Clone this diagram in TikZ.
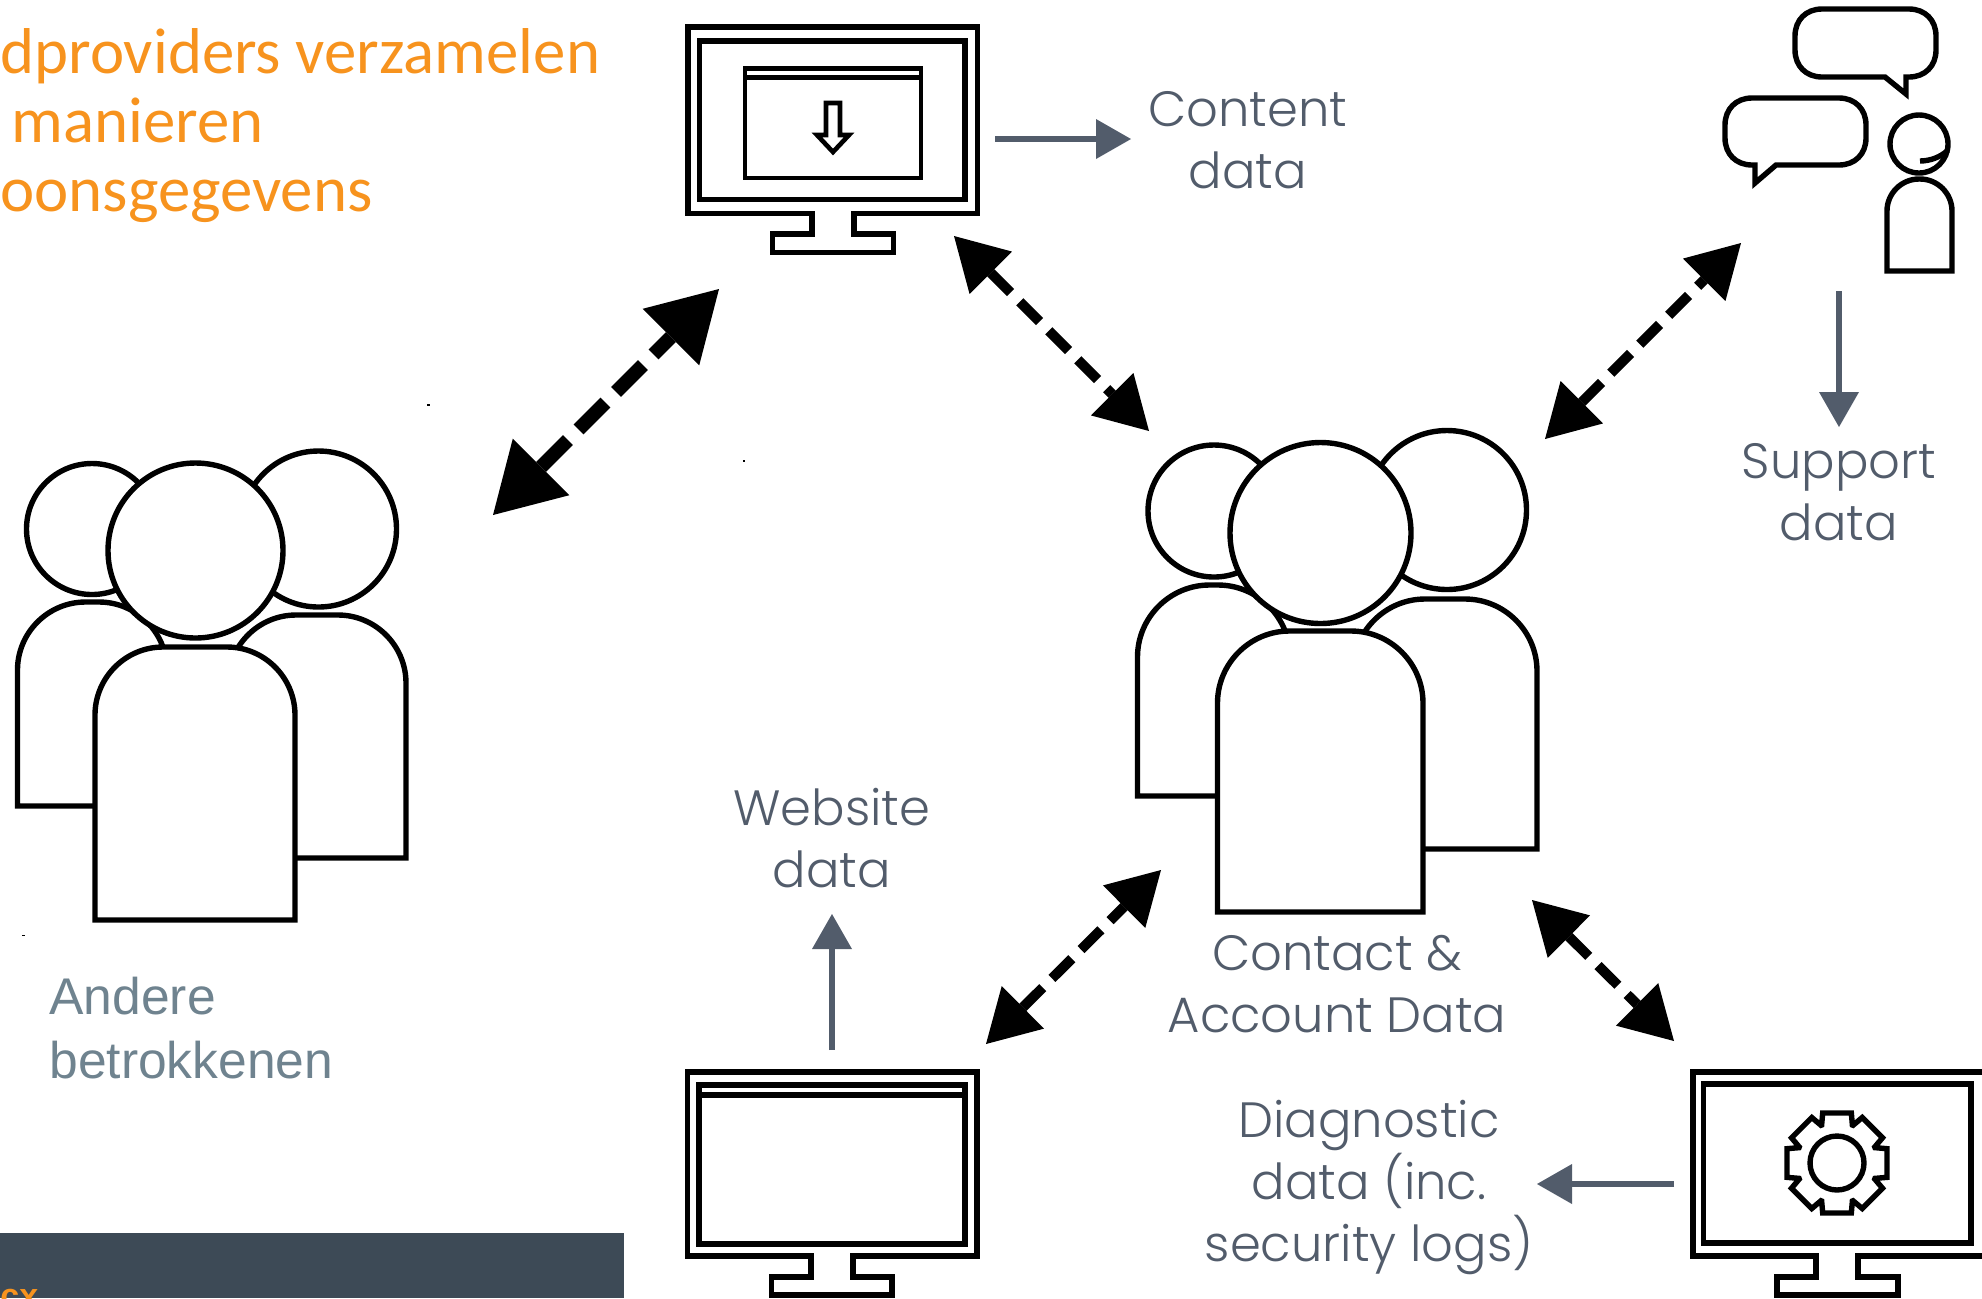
\documentclass[tikz,border=0pt]{standalone}
\usepackage{fontspec}
\usetikzlibrary{arrows.meta}
\setmainfont{Liberation Sans}
\newfontfamily\labfont{Poppins Light}
\newfontfamily\titlefont{Carlito}
\newfontfamily\othersfont{Liberation Sans}
\definecolor{labgrey}{HTML}{525C6B}
\definecolor{titleorange}{HTML}{F7931E}
\definecolor{othersgrey}{HTML}{6F838F}
\definecolor{bardark}{HTML}{3D4A56}
\tikzset{
  ico/.style={draw=black,line width=2.7pt,fill=white,line join=miter,miter limit=10},
  icothin/.style={draw=black,line width=2.3pt,line join=miter,miter limit=10},
  bigarrow/.style={draw=black,line width=7pt,dash pattern=on 19pt off 7.5pt,
     {Triangle[length=34pt,width=40pt,line width=0pt]}-{Triangle[length=34pt,width=40pt,line width=0pt]}},
  midarrow/.style={draw=black,line width=5pt,dash pattern=on 14pt off 6.5pt,
     {Triangle[length=26pt,width=30pt,line width=0pt]}-{Triangle[length=26pt,width=30pt,line width=0pt]}},
  greyarrow/.style={draw=labgrey,line width=2.7pt,-{Triangle[length=17.5pt,width=20pt,line width=0pt]}},
  lab/.style={font=\labfont\fontsize{24.8}{31}\selectfont,text=labgrey,align=center,inner sep=0pt},
  titleline/.style={font=\titlefont\fontsize{32.4}{34.5}\selectfont,text=titleorange,anchor=base west,inner sep=0pt},
  others/.style={font=\othersfont\fontsize{25.8}{32.5}\selectfont,text=othersgrey,align=left,anchor=base west,inner sep=0pt},
  speck/.style={fill=black,draw=none}
}
\newcommand{\bodyshape}[5]{% x1 x2 top bottom radius
  \draw[ico] (#1,#4) -- (#1,#3+#5) .. controls (#1,#3+#5*0.45) and (#1+#5*0.45,#3) .. (#1+#5,#3)
    -- (#2-#5,#3) .. controls (#2-#5*0.45,#3) and (#2,#3+#5*0.45) .. (#2,#3+#5) -- (#2,#4) -- cycle;}
\newcommand{\headshape}[3]{\draw[ico] (#1,#2) circle[radius=#3];}
\newcommand{\monitorshape}[9]{% ox1 ox2 oy1 oy2 nx1 nx2 fx1 fx2 fy1; foot bottom fixed in \footbot
  \draw[ico] (#1,#3) -- (#2,#3) -- (#2,#4) -- (#6,#4) -- (#6,#9) -- (#8,#9) -- (#8,\footbot)
   -- (#7,\footbot) -- (#7,#9) -- (#5,#9) -- (#5,#4) -- (#1,#4) -- cycle;}
\begin{document}
\begin{tikzpicture}[x=0.5pt,y=-0.5pt]
\useasboundingbox (0,0) rectangle (1982,1298);
\clip (0,0) rectangle (1982,1298);
% title
\node[titleline] (t1) at (0,73) {dproviders verzamelen};
\node[titleline] (t2) at (11,142) {manieren};
\node[titleline] (t3) at (0,211) {oonsgegevens};
% dark bar
\fill[bardark] (0,1233) rectangle (624,1298);
\node[font=\othersfont\bfseries\fontsize{17}{20}\selectfont,text=titleorange,anchor=base west,inner sep=0pt] (cx) at (0,1307) {cx};
% monitor 1
\def\footbot{252.5}
\monitorshape{688}{977.5}{27}{213.5}{812}{854}{772.5}{893.5}{234}
\draw[ico] (699.5,41) rectangle (965,199.5);
\draw[icothin] (745,68.5) rectangle (921,178);
\draw[icothin] (745,77.5) -- (921,77.5);
\draw[icothin] (826,103) -- (840,103) -- (840,135) -- (849,135) -- (833,152) -- (817,135) -- (826,135) -- cycle;
% monitor 2
\def\footbot{1295}
\monitorshape{687.5}{977}{1072}{1256}{811}{853}{771.5}{892}{1277}
\draw[ico] (699,1085) rectangle (965,1244);
\draw[ico] (699,1095) -- (965,1095);
% monitor 3
\monitorshape{1693}{1995}{1072}{1256}{1816}{1858}{1777}{1898}{1277}
\draw[ico] (1703.5,1084) rectangle (1971,1243);
\begin{scope}[shift={(1837,1163)}]
\draw[ico] (-22:41) \foreach \a in {0,45,...,315} {-- (\a-22:41) -- (\a-16:52) -- (\a+16:52) -- (\a+22:41)} -- cycle;
\draw[ico] (0,0) circle[radius=27];
\end{scope}
% support person
\draw[ico] (1822,9) -- (1909,9) .. controls (1925,9) and (1936,20) .. (1936,36) -- (1936,50) .. controls (1936,66) and (1925,77) .. (1909,77)
  -- (1906,77) -- (1906,94) -- (1885,77) -- (1822,77) .. controls (1806,77) and (1795,66) .. (1795,50) -- (1795,36) .. controls (1795,20) and (1806,9) .. (1822,9) -- cycle;
\draw[ico] (1752,98) -- (1839,98) .. controls (1855,98) and (1866,109) .. (1866,125) -- (1866,138) .. controls (1866,154) and (1855,165) .. (1839,165)
  -- (1776,165) -- (1755,183) -- (1755,165) -- (1752,165) .. controls (1736,165) and (1725,154) .. (1725,138) -- (1725,125) .. controls (1725,109) and (1736,98) .. (1752,98) -- cycle;
\headshape{1919}{144}{29}
\draw[icothin,line width=2.7pt] (1920,161) .. controls (1930,161) and (1941,157) .. (1948,150);
\bodyshape{1887}{1952}{179}{271}{32}
% left group
\bodyshape{17.5}{167}{602}{806}{68}
\headshape{92}{529}{65.5}
\bodyshape{228}{406}{615}{858}{68}
\headshape{318.5}{529}{78}
\bodyshape{95}{295}{647}{920}{68}
\headshape{195.5}{550.5}{87.5}
% centre group
\bodyshape{1137.5}{1290}{585}{796}{72}
\headshape{1214}{511}{66}
\bodyshape{1353}{1537}{599}{849}{72}
\headshape{1447}{510}{79.5}
\bodyshape{1217.5}{1423}{631}{912}{72}
\headshape{1320.5}{533}{90.5}
% texts
\node[lab] (content) at (1248,140) {Content\\data};
\node[lab] (support) at (1839,492) {Support\\data};
\node[lab] (website) at (832,838) {Website\\data};
\node[lab] (contact) at (1337,984) {Contact \&\\Account Data};
\node[lab] (diag) at (1369,1187) {Diagnostic\\data (inc.\\security logs)};
\node[others] (others1) at (49,1014) {Andere};
\node[others] (others2) at (49,1078) {betrokkenen};
% connector ends
\coordinate (a1s) at (493,515); \coordinate (a1e) at (719,289);
\coordinate (a2s) at (954,236); \coordinate (a2e) at (1149,431);
\coordinate (a3s) at (1545,439); \coordinate (a3e) at (1741,243);
\coordinate (a4s) at (986,1044); \coordinate (a4e) at (1161,870);
\coordinate (a5s) at (1532,900); \coordinate (a5e) at (1674,1041);
\draw[bigarrow] (a1s) -- (a1e);
\draw[midarrow] (a2s) -- (a2e);
\draw[midarrow] (a3s) -- (a3e);
\draw[midarrow] (a4s) -- (a4e);
\draw[midarrow] (a5s) -- (a5e);
\coordinate (g1s) at (995,139); \coordinate (g1e) at (1131,139);
\coordinate (g2s) at (1839,291); \coordinate (g2e) at (1839,427);
\coordinate (g3s) at (832,1050); \coordinate (g3e) at (832,914);
\coordinate (g4s) at (1674,1184); \coordinate (g4e) at (1537,1184);
\draw[greyarrow] (g1s) -- (g1e);
\draw[greyarrow] (g2s) -- (g2e);
\draw[greyarrow] (g3s) -- (g3e);
\draw[greyarrow] (g4s) -- (g4e);
% specks
\fill[speck] (427,404) rectangle (430,405.5);
\fill[speck] (743,460) rectangle (744.5,462);
\fill[speck] (22,935) rectangle (25,936);
\end{tikzpicture}
\end{document}
